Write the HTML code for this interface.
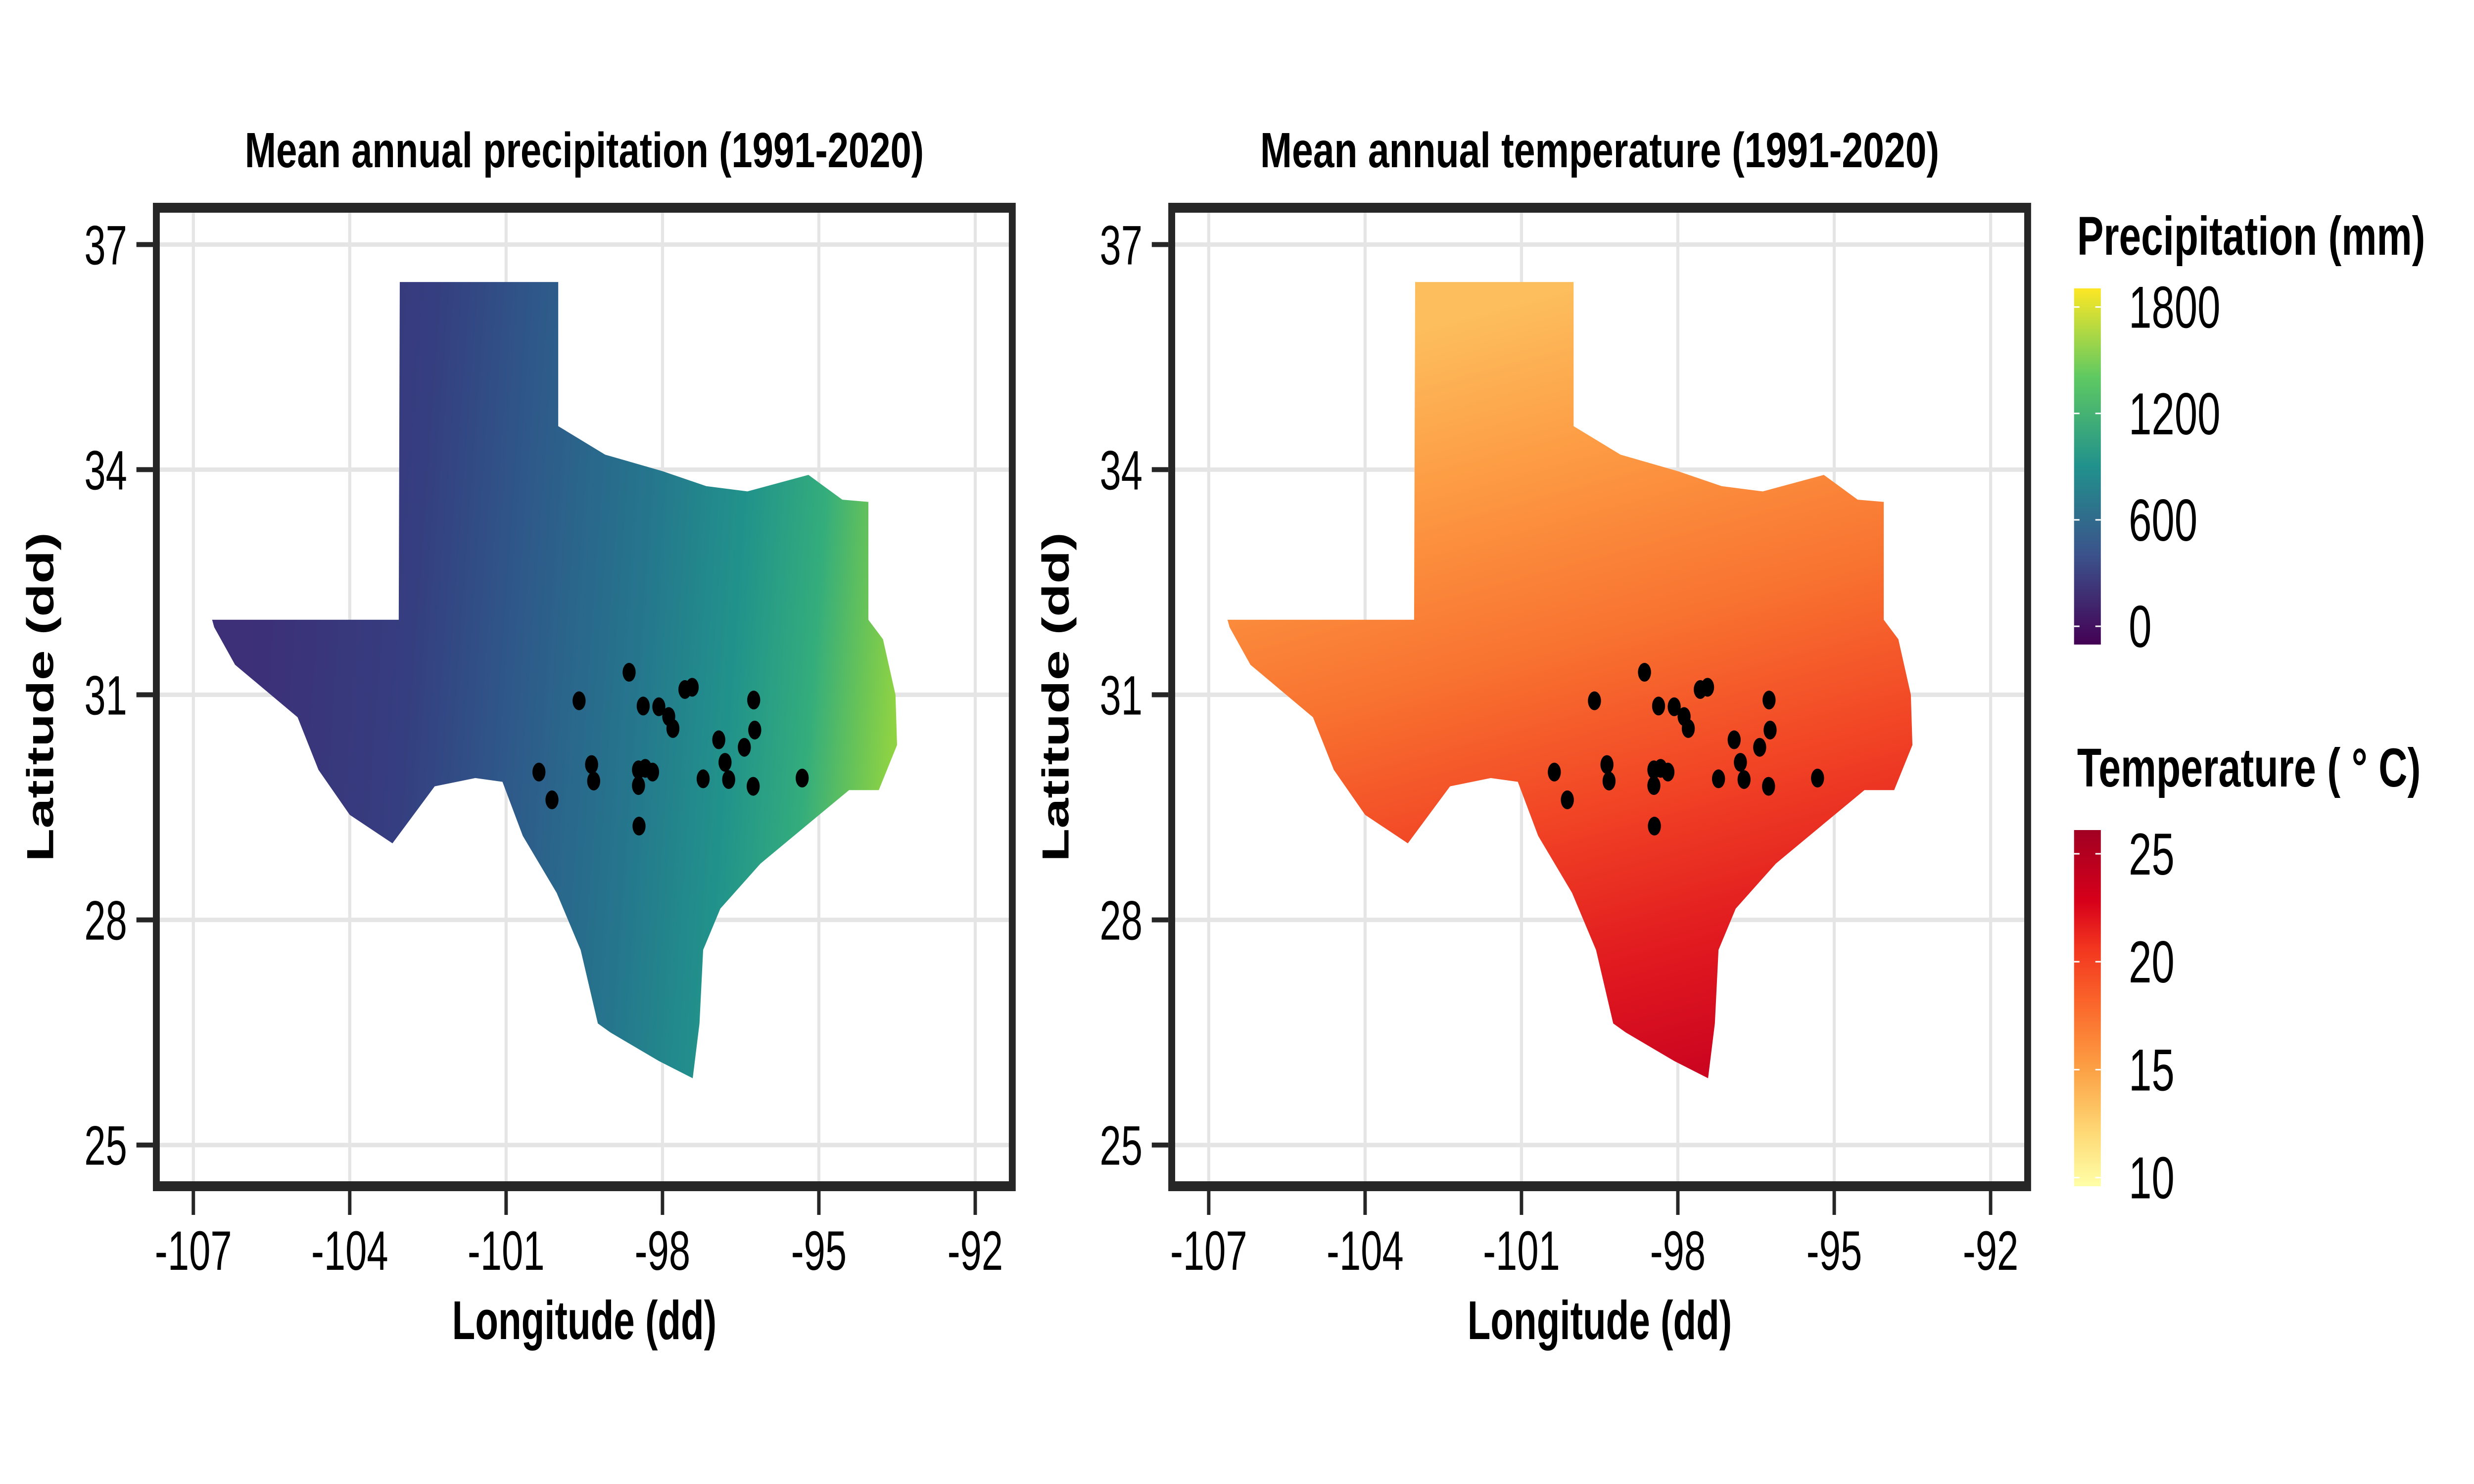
<!DOCTYPE html>
<html><head><meta charset="utf-8"><style>
html,body{margin:0;padding:0;background:#fff;width:100vw;height:100vh;overflow:hidden}
svg{display:block;position:fixed;left:0;top:0;width:100vw;height:100vh}
text{font-family:"Liberation Sans",Arial,sans-serif}
</style></head><body>
<svg id="fig" xmlns="http://www.w3.org/2000/svg" viewBox="0 0 7200 3000" preserveAspectRatio="none">
<defs>
<linearGradient id="gPrecip" gradientUnits="userSpaceOnUse" x1="-106" y1="-31.5" x2="-93.6" y2="-30.2">
<stop offset="0" stop-color="#3d2f78"/><stop offset="0.25" stop-color="#353e80"/><stop offset="0.42" stop-color="#2e5a8a"/>
<stop offset="0.6" stop-color="#25768d"/><stop offset="0.75" stop-color="#21938b"/><stop offset="0.87" stop-color="#34ad7c"/>
<stop offset="0.95" stop-color="#6cc555"/><stop offset="1" stop-color="#8fd344"/></linearGradient>
<linearGradient id="gTemp" gradientUnits="userSpaceOnUse" x1="-100" y1="-36.5" x2="-98" y2="-25.9">
<stop offset="0" stop-color="#fdbf5e"/><stop offset="0.2" stop-color="#fd9c44"/><stop offset="0.45" stop-color="#f8702f"/>
<stop offset="0.65" stop-color="#f14325"/><stop offset="0.85" stop-color="#e0181f"/><stop offset="1" stop-color="#cc0520"/></linearGradient>
<linearGradient id="lgPrecip" x1="0" y1="1" x2="0" y2="0">
<stop offset="0" stop-color="#440154"/><stop offset="0.25" stop-color="#3b528b"/><stop offset="0.5" stop-color="#21918c"/><stop offset="0.75" stop-color="#5ec962"/><stop offset="1" stop-color="#fde725"/></linearGradient>
<linearGradient id="lgTemp" x1="0" y1="1" x2="0" y2="0">
<stop offset="0" stop-color="#ffffa8"/><stop offset="0.15" stop-color="#fed976"/><stop offset="0.33" stop-color="#fca044"/><stop offset="0.5" stop-color="#fb6a2c"/><stop offset="0.67" stop-color="#f2351f"/><stop offset="0.8" stop-color="#d7001a"/><stop offset="1" stop-color="#a10023"/></linearGradient>
</defs>
</svg>
<script>
const lonTicks=[-107,-104,-101,-98,-95,-92];
const latTicks=[37,34,31,28,25];
const siteLon=[-98.64,-99.60,-98.37,-98.07,-97.88,-97.80,-97.57,-97.43,-96.25,-96.23,-96.92,-96.43,-96.80,-96.73,-96.26,-97.22,-95.32,-99.36,-99.32,-100.37,-100.12,-98.46,-98.33,-98.19,-98.46,-98.45];
const siteLat=[31.30,30.92,30.85,30.84,30.71,30.55,31.07,31.10,30.93,30.53,30.40,30.30,30.10,29.87,29.78,29.88,29.89,30.07,29.85,29.97,29.60,30.00,30.02,29.97,29.79,29.25];
const texasLon=[-106.64,-103.06,-103.04,-100.0,-100.0,-99.1,-98.0,-97.16,-96.37,-95.2,-94.55,-94.05,-94.05,-93.77,-93.53,-93.5,-93.85,-94.42,-95.08,-96.12,-96.89,-97.22,-97.29,-97.42,-98.07,-99.0,-99.24,-99.57,-100.03,-100.68,-101.07,-101.59,-102.37,-103.18,-104.0,-104.6,-105.0,-106.2,-106.6];
const texasLat=[32.0,32.0,36.5,36.5,34.58,34.2,33.98,33.78,33.71,33.93,33.6,33.57,32.0,31.74,31.0,30.33,29.73,29.73,29.35,28.75,28.15,27.6,26.62,25.89,26.12,26.5,26.62,27.6,28.36,29.12,29.84,29.89,29.78,29.02,29.4,30.0,30.7,31.4,31.9];
const precipTicks=[0,600,1200,1800];
const tempTicks=[10,15,20,25];
const panels=[{x0:455,title:"Mean annual precipitation (1991-2020)",fill:"url(#gPrecip)",n:"precipitation"},
              {x0:3410,title:"Mean annual temperature (1991-2020)",fill:"url(#gTemp)",n:"temperature"}];
const NS="http://www.w3.org/2000/svg";
const svg=document.getElementById('fig');
function mk(tag,attrs,parent){const e=document.createElementNS(NS,tag);for(const k in attrs)e.setAttribute(k,attrs[k]);(parent||svg).appendChild(e);return e;}
const W=2491,topY=420,botY=2398,lonMin=-107.71,latMax=37.49,ppd=151.7;
panels.forEach(p=>{
  const g=mk('g',{});
  
  
  const X=lon=>p.x0+(lon-lonMin)*ppd, Y=lat=>topY+(latMax-lat)*ppd;
  lonTicks.forEach(t=>{const l=mk('line',{x1:X(t),x2:X(t),y1:topY,y2:botY,stroke:'#e5e5e5','stroke-width':9},g);
    
    });
  latTicks.forEach(t=>{const l=mk('line',{x1:p.x0,x2:p.x0+W,y1:Y(t),y2:Y(t),stroke:'#e5e5e5','stroke-width':9},g);
    
    });
  const st=mk('polygon',{points:texasLon.map((lo,i)=>lo+','+(-texasLat[i])).join(' '),fill:p.fill,transform:`translate(${p.x0-lonMin*ppd},${topY+latMax*ppd}) scale(${ppd})`},g);
  
  
  siteLon.forEach((lo,i)=>{const c=mk('circle',{cx:X(lo),cy:Y(siteLat[i]),r:19,fill:'#000'},g);
    
    });
  const b=mk('rect',{x:p.x0,y:topY,width:W,height:botY-topY,fill:'none',stroke:'#262626','stroke-width':20},g);
  
  
  lonTicks.forEach(t=>{mk('line',{x1:X(t),x2:X(t),y1:botY+10,y2:botY+58,stroke:'#262626','stroke-width':10},g);
    const tx=mk('text',{x:X(t),y:2567,'font-size':112,'text-anchor':'middle',fill:'#000'},g);tx.textContent=t;
    
    });
  latTicks.forEach(t=>{mk('line',{x1:p.x0-10,x2:p.x0-58,y1:Y(t),y2:Y(t),stroke:'#262626','stroke-width':10},g);
    const tx=mk('text',{x:p.x0-85,y:Y(t)+40,'font-size':112,'text-anchor':'end',fill:'#000'},g);tx.textContent=t;
    
    });
  const xt=mk('text',{x:p.x0+W/2,y:2707,'font-size':110,'font-weight':'bold','text-anchor':'middle'},g);xt.textContent='Longitude (dd)';
  
  
  const yt=mk('text',{x:0,y:0,'font-size':110,'font-weight':'bold','text-anchor':'middle',transform:`translate(${p.x0-300},${(topY+botY)/2}) rotate(-90)`},g);yt.textContent='Latitude (dd)';
  
  
  const tt=mk('text',{x:p.x0+W/2,y:338,'font-size':100,'font-weight':'bold','text-anchor':'middle',textLength:1976,lengthAdjust:'spacingAndGlyphs'},g);tt.textContent=p.title;
  
  
});
function legend(title,tlen,ticks,vmin,vmax,y0,y1,grad,ty,n){
  const g=mk('g',{});
  
  
  const t=mk('text',{x:6045,y:ty,'font-size':110,'font-weight':'bold',textLength:tlen,lengthAdjust:'spacingAndGlyphs'},g);t.textContent=title;
  
  
  const r=mk('rect',{x:6036,y:y0,width:78,height:y1-y0,fill:grad},g);
  
  
  const V=v=>y1-(v-vmin)/(vmax-vmin)*(y1-y0);
  ticks.forEach(v=>{mk('line',{x1:6036,x2:6052,y1:V(v),y2:V(v),stroke:'#fff','stroke-width':3},g);
    mk('line',{x1:6098,x2:6114,y1:V(v),y2:V(v),stroke:'#fff','stroke-width':3},g);
    const l=mk('text',{x:6195,y:V(v)+42,'font-size':120},g);l.textContent=v;
    
    });
}
legend('Precipitation (mm)',1013,precipTicks,-103,1905,583,1303,'url(#lgPrecip)',515,'precipitation');
legend('Temperature ( \u00B0 C)',1000,tempTicks,9.6,26.1,1678,2398,'url(#lgTemp)',1590,'temperature');
</script>
</body></html>
